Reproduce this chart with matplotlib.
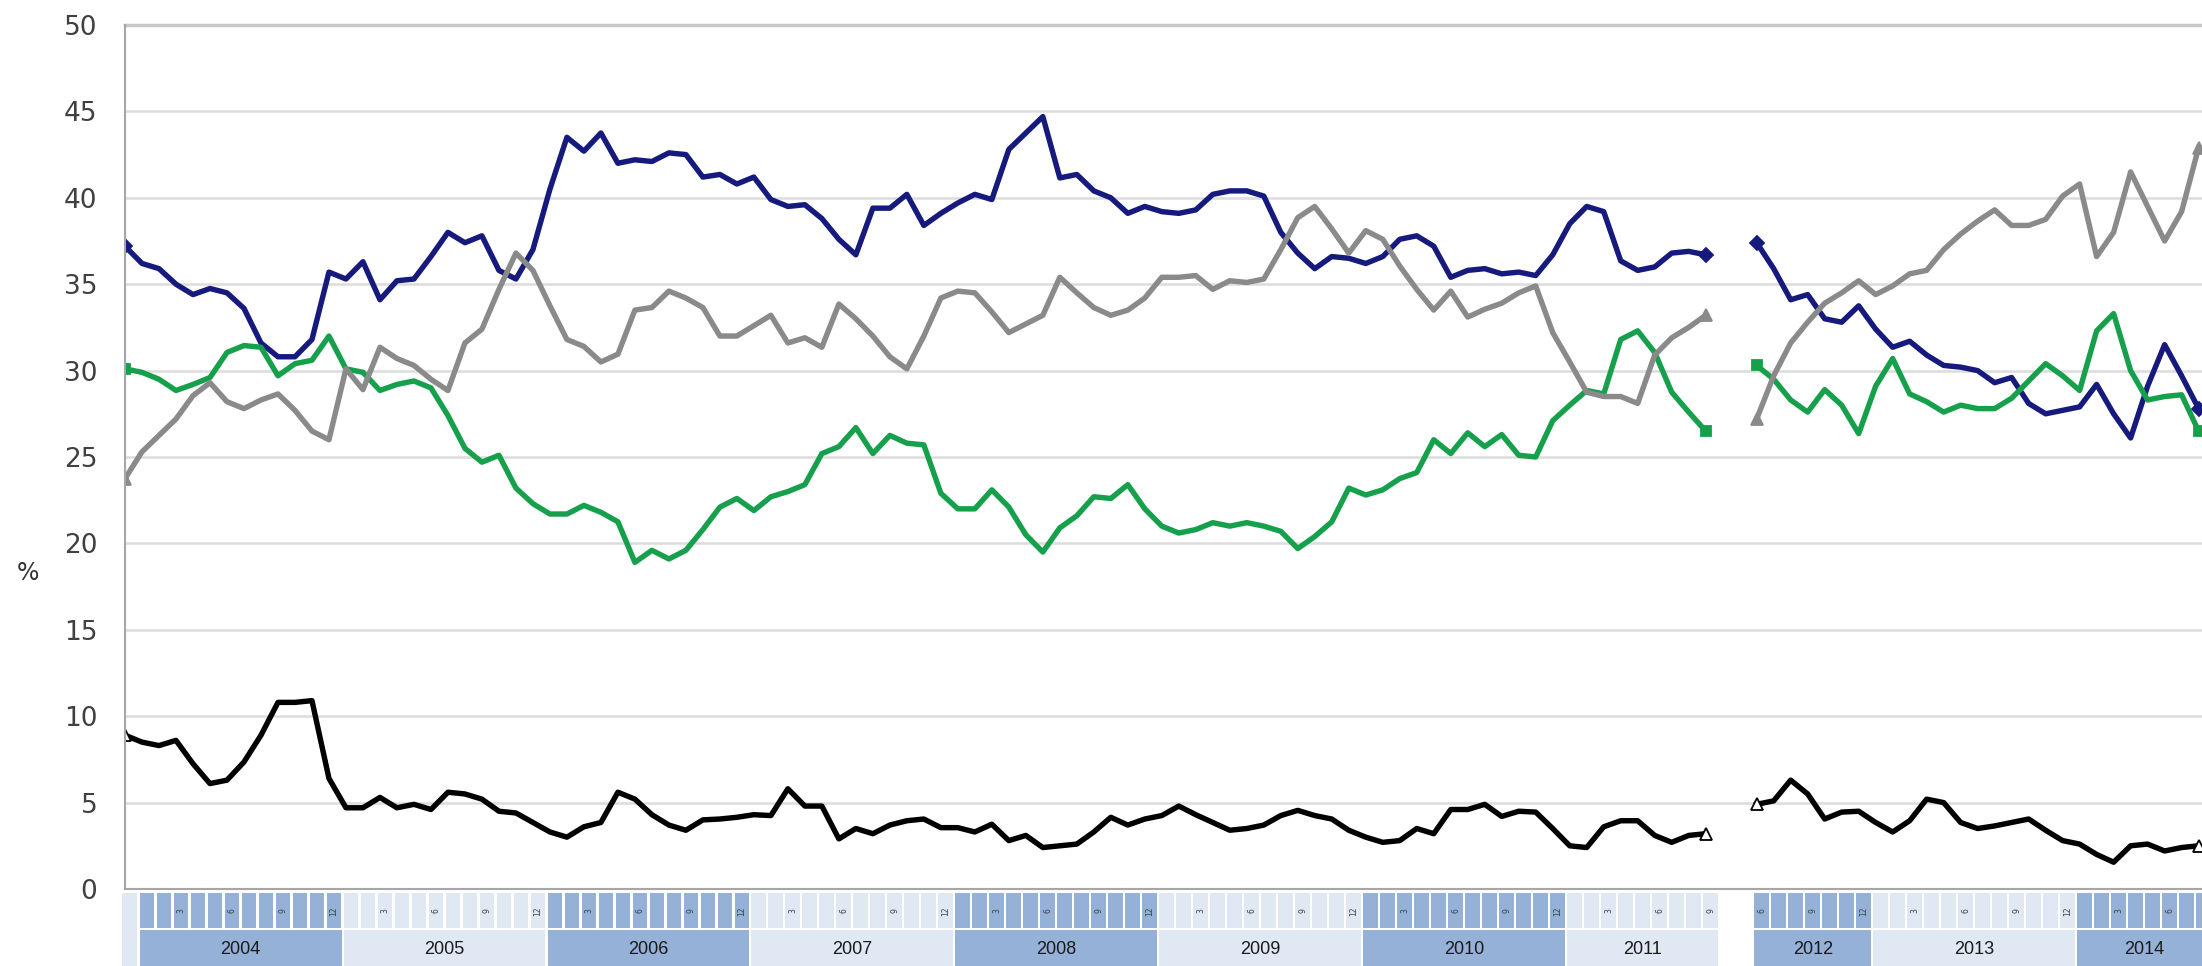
import numpy as np
import matplotlib.pyplot as plt
from matplotlib.patches import Rectangle

# block 1: start column + Jan 2004 .. Sep 2011 (94 points)
navy_a = [37.2, 36.2, 35.9, 35.0, 34.4, 34.75, 34.5, 33.6, 31.6, 30.8, 30.8, 31.8, 35.7, 35.3, 36.3, 34.1,
          35.2, 35.3, 36.6, 38.0, 37.4, 37.8, 35.8, 35.3, 37.0, 40.5, 43.5, 42.7, 43.75, 42.0, 42.2, 42.1,
          42.6, 42.5, 41.2, 41.35, 40.8, 41.2, 39.9, 39.5, 39.6,
          38.8, 37.6, 36.7, 39.4, 39.4, 40.2, 38.4, 39.1, 39.7, 40.2, 39.9, 42.8, 43.75, 44.7, 41.15, 41.35,
          40.4, 40.0, 39.1, 39.5, 39.2, 39.1, 39.3, 40.2, 40.4, 40.4, 40.1, 38.0, 36.8, 35.9, 36.6, 36.5,
          36.2, 36.6, 37.6, 37.8, 37.2, 35.4, 35.8, 35.9,
          35.6, 35.7, 35.5, 36.7, 38.5, 39.5, 39.2, 36.35, 35.8, 36.0, 36.8, 36.9, 36.7]
gray_a = [23.75, 25.3, 26.25, 27.2, 28.55, 29.3, 28.2, 27.8, 28.3, 28.65, 27.7, 26.5, 26.0, 30.1, 28.9, 31.35,
          30.7, 30.3, 29.5, 28.85, 31.6, 32.4, 34.7, 36.8, 35.8, 33.75, 31.8, 31.4, 30.5, 30.95, 33.5, 33.65,
          34.6, 34.2, 33.65, 32.0, 32.0, 32.6, 33.2, 31.6, 31.9,
          31.35, 33.85, 33.0, 32.0, 30.8, 30.1, 32.0, 34.2, 34.6, 34.5, 33.4, 32.2, 32.7, 33.2, 35.4, 34.5,
          33.65, 33.2, 33.5, 34.2, 35.4, 35.4, 35.5, 34.7, 35.2, 35.1, 35.3, 37.0, 38.85, 39.5, 38.2, 36.8,
          38.1, 37.6, 36.05, 34.7, 33.5, 34.6, 33.1, 33.55,
          33.9, 34.5, 34.9, 32.2, 30.5, 28.75, 28.5, 28.5, 28.1, 30.9, 31.9, 32.5, 33.2]
green_a = [30.1, 29.9, 29.5, 28.85, 29.2, 29.6, 31.05, 31.45, 31.35, 29.7, 30.4, 30.6, 32.0, 30.1, 29.9, 28.85,
           29.2, 29.4, 29.0, 27.4, 25.5, 24.7, 25.1, 23.2, 22.3, 21.7, 21.7, 22.2, 21.8, 21.25, 18.9, 19.6,
           19.1, 19.6, 20.8, 22.1, 22.6, 21.9, 22.7, 23.0, 23.4,
           25.2, 25.6, 26.7, 25.2, 26.25, 25.8, 25.7, 22.9, 22.0, 22.0, 23.1, 22.1, 20.5, 19.5, 20.9, 21.6,
           22.7, 22.6, 23.4, 22.0, 21.0, 20.6, 20.8, 21.2, 21.0, 21.2, 21.0, 20.7, 19.7, 20.4, 21.25, 23.2,
           22.8, 23.1, 23.75, 24.1, 26.0, 25.2, 26.4, 25.6,
           26.3, 25.1, 25.0, 27.1, 28.0, 28.85, 28.65, 31.8, 32.3, 31.05, 28.75, 27.6, 26.5]
black_a = [8.9, 8.5, 8.3, 8.6, 7.25, 6.1, 6.3, 7.35, 8.9, 10.8, 10.8, 10.9, 6.4, 4.7, 4.7, 5.3,
           4.7, 4.9, 4.6, 5.6, 5.5, 5.2, 4.5, 4.4, 3.85, 3.3, 3.0, 3.6, 3.85, 5.6, 5.2, 4.3,
           3.7, 3.4, 4.0, 4.05, 4.15, 4.3, 4.25, 5.8, 4.8,
           4.8, 2.9, 3.5, 3.2, 3.7, 3.95, 4.05, 3.55, 3.55, 3.3, 3.75, 2.8, 3.1, 2.4, 2.5, 2.6,
           3.3, 4.15, 3.7, 4.05, 4.25, 4.8, 4.3, 3.85, 3.4, 3.5, 3.7, 4.25, 4.55, 4.25, 4.05, 3.4,
           3.0, 2.7, 2.8, 3.5, 3.2, 4.6, 4.6, 4.9,
           4.2, 4.5, 4.45, 3.5, 2.5, 2.4, 3.6, 3.95, 3.95, 3.1, 2.7, 3.1, 3.2]

# block 2: Jun 2012 .. Aug 2014 (27 points)
navy_b = [37.4, 35.9, 34.1, 34.4, 33.0, 32.8, 33.75, 32.4, 31.35, 31.7, 30.9, 30.3, 30.2, 30.0, 29.3,
          29.6, 28.1, 27.5, 27.7, 27.9, 29.2, 27.5, 26.1, 29.1, 31.5, 29.7, 27.8]
gray_b = [27.2, 29.7, 31.6, 32.8, 33.9, 34.5, 35.2, 34.4, 34.9, 35.6, 35.8, 37.0, 37.9, 38.65, 39.3,
          38.4, 38.4, 38.75, 40.1, 40.8, 36.6, 38.0, 41.5, 39.5, 37.5, 39.2, 42.9]
green_b = [30.3, 29.5, 28.3, 27.6, 28.9, 28.0, 26.35, 29.1, 30.7, 28.65, 28.2, 27.6, 28.0, 27.8, 27.8,
           28.4, 29.4, 30.4, 29.7, 28.85, 32.3, 33.3, 30.0, 28.3, 28.5, 28.6, 26.5]
black_b = [4.9, 5.1, 6.3, 5.5, 4.05, 4.45, 4.5, 3.85, 3.3, 3.95, 5.2, 5.0, 3.85, 3.5, 3.65,
           3.85, 4.05, 3.4, 2.8, 2.6, 2.0, 1.55, 2.5, 2.6, 2.2, 2.4, 2.5]

# calendar strip
years = ['2004', '2005', '2006', '2007', '2008', '2009', '2010', '2011', '2012', '2013', '2014']
first_month = [1, 1, 1, 1, 1, 1, 1, 1, 6, 1, 1]
last_month = [12, 12, 12, 12, 12, 12, 12, 9, 12, 12, 8]
month_marks = [3, 6, 9, 12]

W, H = 2202, 966
x_a = np.arange(len(navy_a))
x_b = 96 + np.arange(len(navy_b))

fig = plt.figure(figsize=(W / 100, H / 100), dpi=100)
ax = fig.add_axes([125 / W, 77 / H, 1 - 125 / W, 864 / H])

styles = [
    (navy_a, navy_b, '#151a7c', 'D', '#151a7c', '#151a7c', 7),
    (green_a, green_b, '#16a04c', 's', '#16a04c', '#16a04c', 7),
    (gray_a, gray_b, '#8a8a8a', '^', '#8a8a8a', '#8a8a8a', 9),
    (black_a, black_b, '#000000', '^', 'white', '#000000', 9),
]
for a, b, col, mk, mfc, mec, ms in styles:
    for xs, ys in ((x_a, a), (x_b, b)):
        ax.plot(xs, ys, color=col, lw=3.9, marker=mk, markevery=[0, len(ys) - 1],
                ms=ms, mfc=mfc, mec=mec, mew=1.3, solid_joinstyle='round')

ax.set_xlim(0, 122.2)
ax.set_ylim(0, 50)
ax.set_yticks(np.arange(0, 51, 5))
ax.set_xticks([])
ax.yaxis.grid(True, color='#dcdcdc', lw=1.8)
ax.set_axisbelow(True)
for s in ['top', 'right']:
    ax.spines[s].set_visible(False)
ax.spines['left'].set_color('#a6a6a6')
ax.spines['bottom'].set_color('#a6a6a6')
ax.spines['left'].set_linewidth(1.5)
ax.spines['bottom'].set_linewidth(1.5)
ax.axhline(50, color='#c8c8c8', lw=2.5, clip_on=False)
ax.tick_params(axis='y', length=0, pad=20, labelsize=19, labelcolor='#404040')

fig.text(28 / W, 0.407, '%', fontsize=17, ha='center', va='center', color='#333333')

# calendar strip below the plot
cal = fig.add_axes([125 / W, 0, 1 - 125 / W, 73 / H])
cal.set_xlim(0, 122.2)
cal.set_ylim(0, 73)
cal.axis('off')

dark = '#95b1d8'
light = '#dfe8f3'
cal.add_patch(Rectangle((-0.2, 0), 0.92, 73, fc=light, ec='none', clip_on=False))

k = 1
for i, y in enumerate(years):
    col = dark if i % 2 == 0 else light
    start = k
    for m in range(first_month[i], last_month[i] + 1):
        cal.add_patch(Rectangle((k - 0.2 + 0.06, 38), 0.86, 35, fc=col, ec='none', clip_on=False))
        if m in month_marks:
            cal.text(k + 0.3, 55, str(m), rotation=90, fontsize=5.5, ha='center', va='center',
                     color='#404040')
        k += 1
    cal.add_patch(Rectangle((start - 0.2 + 0.06, 0), k - start - 0.12, 36, fc=col, ec='none',
                            clip_on=False))
    cal.text((start + k) / 2 - 0.2, 17, y, fontsize=13, ha='center', va='center',
             color='#1a1a1a', family=['Liberation Sans Narrow', 'Liberation Sans', 'DejaVu Sans'])
    if y == '2011':
        k += 2

plt.savefig('out.png', dpi=100)
